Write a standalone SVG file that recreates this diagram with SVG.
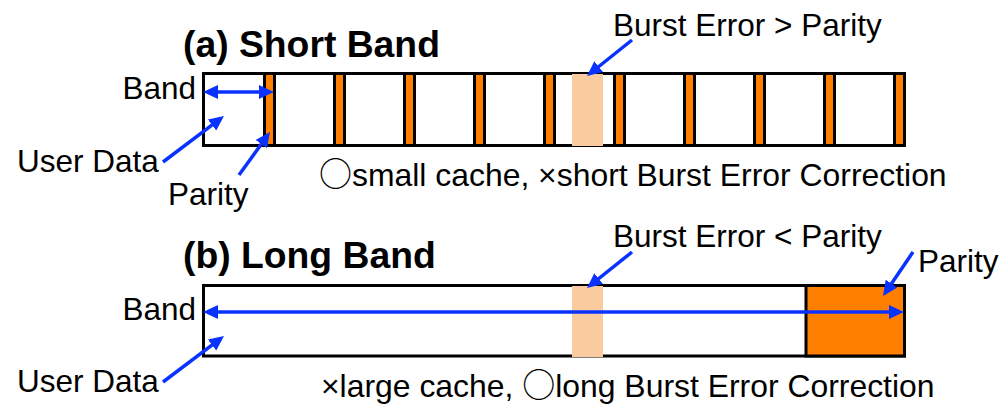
<svg xmlns="http://www.w3.org/2000/svg" width="1002" height="405" viewBox="0 0 1002 405">
  <style>
    .txt { font-family: "Liberation Sans", Arial, sans-serif; font-size: 31.5px; fill: #000; }
    .note { font-size: 31.9px; }
    .circ { font-family: "Noto Sans CJK JP", sans-serif; font-size: 33px; }
    .title { font-family: "Liberation Sans", Arial, sans-serif; font-size: 37.3px; font-weight: bold; fill: #000; }
    .frame { fill: #fff; stroke: #000; stroke-width: 3; }
    .parity { fill: #FF7F00; stroke: #000; stroke-width: 3; }
    .burst { fill: #FACB9F; stroke: none; }
    .arrow { stroke: #0A32FF; stroke-width: 3.5; fill: none; marker-end: url(#head); }
    .both { marker-start: url(#head); }
  </style>
  <defs>
    <marker id="head" viewBox="0 0 15 14" refX="11" refY="7" markerWidth="15" markerHeight="14" markerUnits="userSpaceOnUse" orient="auto-start-reverse">
      <path d="M0,0 L15,7 L0,14 z" fill="#0A32FF"/>
    </marker>
  </defs>
  <rect width="1002" height="405" fill="#fff"/>

  <!-- (a) short band: many small bands, each ending in its own parity -->
  <g id="short-band">
    <text class="title" x="183" y="57">(a) Short Band</text>
    <rect class="frame" x="203.5" y="73.5" width="701" height="72"/>
    <g id="short-parity">
      <rect class="parity" x="264.5" y="73.5" width="10" height="72"/>
      <rect class="parity" x="334.5" y="73.5" width="10" height="72"/>
      <rect class="parity" x="404.5" y="73.5" width="10" height="72"/>
      <rect class="parity" x="474.5" y="73.5" width="10" height="72"/>
      <rect class="parity" x="544.5" y="73.5" width="10" height="72"/>
      <rect class="parity" x="614.5" y="73.5" width="10" height="72"/>
      <rect class="parity" x="684.5" y="73.5" width="10" height="72"/>
      <rect class="parity" x="754.5" y="73.5" width="10" height="72"/>
      <rect class="parity" x="824.5" y="73.5" width="10" height="72"/>
      <rect class="parity" x="894.5" y="73.5" width="10" height="72"/>
    </g>
    <rect id="short-burst" class="burst" x="572" y="74" width="31" height="72"/>
  </g>

  <g id="short-labels">
    <text class="txt" x="196" y="99" text-anchor="end">Band</text>
    <text class="txt" x="17" y="172">User Data</text>
    <text class="txt" x="168" y="205">Parity</text>
    <text class="txt" x="613" y="36">Burst Error &gt; Parity</text>
    <text class="txt note" x="319" y="186"><tspan class="circ">○</tspan>small cache, ×short Burst Error Correction</text>
  </g>

  <!-- (b) long band: one band with a single large parity block -->
  <g id="long-band">
    <text class="title" x="183" y="268">(b) Long Band</text>
    <rect class="frame" x="203.5" y="285.5" width="701" height="70.5"/>
    <rect id="long-parity" class="parity" x="806" y="285.5" width="98.5" height="70.5"/>
    <rect id="long-burst" class="burst" x="572" y="286" width="31" height="71"/>
  </g>

  <g id="long-labels">
    <text class="txt" x="196" y="320" text-anchor="end">Band</text>
    <text class="txt" x="17" y="392">User Data</text>
    <text class="txt" x="918" y="272">Parity</text>
    <text class="txt" x="613" y="247">Burst Error &lt; Parity</text>
    <text class="txt note" x="321" y="397">×large cache, <tspan class="circ">○</tspan>long Burst Error Correction</text>
  </g>

  <g id="connectors">
    <line class="arrow both" x1="207" y1="92" x2="270" y2="92"/>
    <line class="arrow" x1="163" y1="162" x2="220.8" y2="118.4"/>
    <line class="arrow" x1="239" y1="175" x2="267.7" y2="135.2"/>
    <line class="arrow" x1="632" y1="40" x2="590.1" y2="73.5"/>

    <line class="arrow both" x1="207" y1="312" x2="900" y2="312"/>
    <line class="arrow" x1="163" y1="382" x2="220.8" y2="338.4"/>
    <line class="arrow" x1="632" y1="252" x2="590.1" y2="285.5"/>
    <line class="arrow" x1="913" y1="252" x2="885.3" y2="292.7"/>
  </g>
</svg>
